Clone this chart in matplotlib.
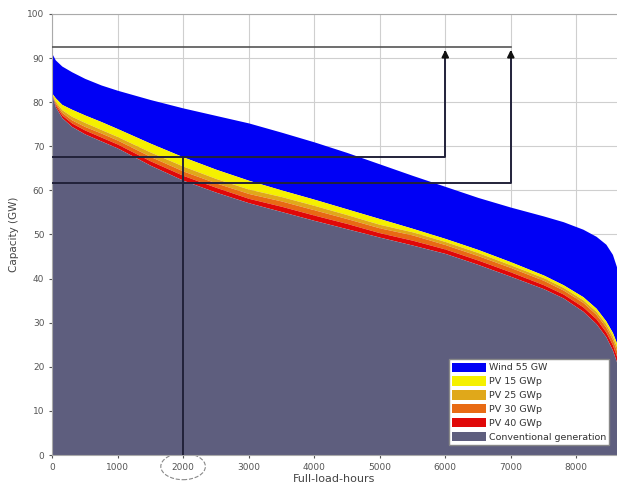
"""
Load duration curve: conventional generation vs. wind and PV contributions.
"""

import matplotlib.pyplot as plt
from matplotlib.patches import Ellipse

hours = [0, 50, 150, 300, 500, 750, 1000, 1500, 2000, 2500, 3000, 3500,
         4000, 4500, 5000, 5500, 6000, 6500, 7000, 7500, 7800, 8100,
         8300, 8450, 8550, 8650, 8760]

# upper edge of the wind band (total load)
load = [91.0, 89.6, 88.2, 86.9, 85.4, 83.9, 82.7, 80.6, 78.7, 77.0, 75.3,
        73.2, 71.0, 68.6, 66.0, 63.4, 60.9, 58.4, 56.2, 54.2, 52.9, 51.2,
        49.6, 47.8, 45.5, 41.0, 30.0]
# residual load after wind
res_wind = [82.0, 81.0, 79.5, 78.4, 77.1, 75.6, 74.0, 70.7, 67.6, 64.8,
            62.3, 60.1, 58.0, 55.8, 53.6, 51.4, 49.1, 46.6, 43.8, 40.8,
            38.6, 35.9, 33.3, 30.4, 27.8, 24.0, 15.0]
res_pv15 = [81.8, 80.2, 78.3, 76.8, 75.4, 73.8, 72.2, 68.7, 65.5, 62.7,
            60.3, 58.6, 56.6, 54.5, 52.3, 50.6, 48.4, 45.9, 43.1, 40.2,
            38.0, 35.2, 32.6, 29.7, 27.0, 23.1, 14.4]
res_pv25 = [81.7, 79.8, 77.7, 76.0, 74.5, 73.0, 71.4, 67.7, 64.4, 61.7,
            59.3, 57.6, 55.6, 53.6, 51.5, 49.9, 47.7, 45.2, 42.5, 39.6,
            37.4, 34.6, 31.9, 29.0, 26.2, 22.2, 13.8]
res_pv30 = [81.6, 79.4, 77.1, 75.3, 73.7, 72.1, 70.5, 66.7, 63.4, 60.7,
            58.2, 56.4, 54.4, 52.5, 50.4, 48.7, 46.7, 44.2, 41.5, 38.6,
            36.5, 33.6, 30.9, 27.9, 25.0, 20.9, 12.9]
res_pv40 = [81.5, 79.0, 76.5, 74.5, 72.8, 71.2, 69.6, 65.7, 62.3, 59.6,
            57.2, 55.2, 53.2, 51.3, 49.4, 47.6, 45.7, 43.2, 40.5, 37.7,
            35.6, 32.6, 29.8, 26.8, 23.8, 19.5, 12.0]

labels = ['Wind 55 GW', 'PV 15 GWp', 'PV 25 GWp', 'PV 30 GWp',
          'PV 40 GWp', 'Conventional generation']
colors = ['#0000f5', '#f5f000', '#e0a81a', '#e86a14', '#e00808', '#5e5e7e']

x_ticks = [0, 1000, 2000, 3000, 4000, 5000, 6000, 7000, 8000]
y_ticks = [0, 10, 20, 30, 40, 50, 60, 70, 80, 90, 100]

# markers: capacity levels read at 2000 h and the arrows at 6000 / 7000 h
mark_hour = 2000
level_pv15 = 67.6
level_pv40 = 61.7
level_top = 92.5
arrow_hours = [6000, 7000]

fig = plt.figure(figsize=(6.17, 4.86), dpi=100)
ax = fig.add_axes([52 / 617, 31 / 486, 565 / 617, 441 / 486])

bands = [load, res_wind, res_pv15, res_pv25, res_pv30, res_pv40]
for i in range(5):
    ax.fill_between(hours, bands[i + 1], bands[i], color=colors[i],
                    label=labels[i], linewidth=0, zorder=2)
ax.fill_between(hours, 0, res_pv40, color=colors[5], label=labels[5],
                linewidth=0, zorder=2)

ax.set_xlim(0, 8620)
ax.set_ylim(0, 100)
ax.set_xticks(x_ticks)
ax.set_yticks(y_ticks)
ax.tick_params(labelsize=6.5, colors='#555555', length=2)
ax.grid(True, color='#cfcfcf', linewidth=0.8, zorder=0)
ax.set_axisbelow(True)
for s in ['top', 'left', 'bottom']:
    ax.spines[s].set_color('#aaaaaa')
ax.spines['right'].set_visible(False)

ax.set_xlabel('Full-load-hours', fontsize=8, color='#444444', labelpad=2)
ax.set_ylabel('Capacity (GW)', fontsize=7.5, color='#444444', labelpad=6)

# guide lines
line_kw = dict(color='#22223a', linewidth=1.4, zorder=4)
ax.plot([mark_hour, mark_hour], [0, level_pv15], **line_kw)
ax.plot([0, arrow_hours[0], arrow_hours[0]],
        [level_pv15, level_pv15, level_top - 1.2], **line_kw)
ax.plot([0, arrow_hours[1], arrow_hours[1]],
        [level_pv40, level_pv40, level_top - 1.2], **line_kw)
ax.plot([0, arrow_hours[1]], [level_top, level_top], color='#555555',
        linewidth=1.2, zorder=4)
for h in arrow_hours:
    ax.annotate('', xy=(h, level_top), xytext=(h, level_top - 3),
                arrowprops=dict(arrowstyle='-|>', color='#111111',
                                lw=1.4, mutation_scale=10), zorder=5)

# dashed circle round the 2000 tick label
circle = Ellipse((mark_hour, -2.6), 680, 6.0, fill=False, linestyle='--',
                 edgecolor='#888888', linewidth=0.8, clip_on=False,
                 transform=ax.transData)
ax.add_patch(circle)

leg = ax.legend(loc='lower right', fontsize=6.8, frameon=True, fancybox=False,
                edgecolor='#888888', framealpha=1, borderpad=0.35,
                labelspacing=0.42, handlelength=3.6, handleheight=1.15,
                handletextpad=0.3, bbox_to_anchor=(0.995, 0.012))
for t in leg.get_texts():
    t.set_color('#333333')

fig.savefig('out.png', dpi=100)
